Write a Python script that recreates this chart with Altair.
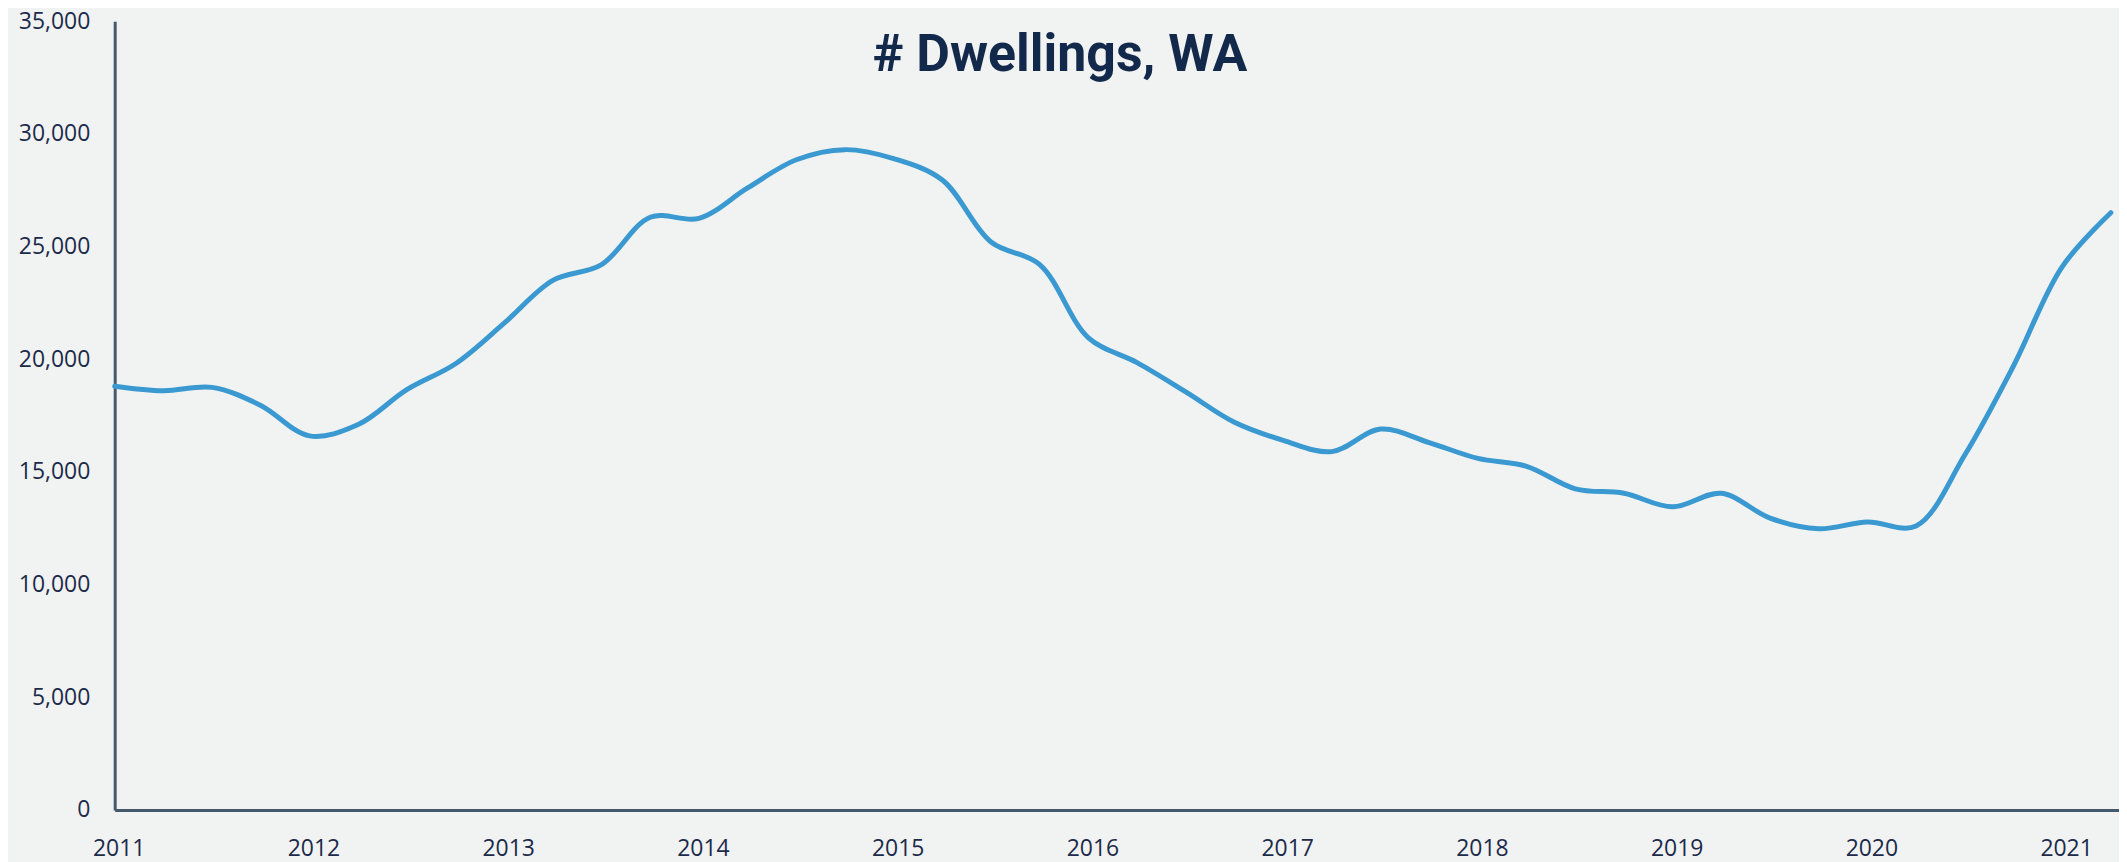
import altair as alt
import pandas as pd

# Quarterly periods (Mar-quarter 2011 ... Jun-quarter 2021)
periods = [
    "2011 Q1", "2011 Q2", "2011 Q3", "2011 Q4",
    "2012 Q1", "2012 Q2", "2012 Q3", "2012 Q4",
    "2013 Q1", "2013 Q2", "2013 Q3", "2013 Q4",
    "2014 Q1", "2014 Q2", "2014 Q3", "2014 Q4",
    "2015 Q1", "2015 Q2", "2015 Q3", "2015 Q4",
    "2016 Q1", "2016 Q2", "2016 Q3", "2016 Q4",
    "2017 Q1", "2017 Q2", "2017 Q3", "2017 Q4",
    "2018 Q1", "2018 Q2", "2018 Q3", "2018 Q4",
    "2019 Q1", "2019 Q2", "2019 Q3", "2019 Q4",
    "2020 Q1", "2020 Q2", "2020 Q3", "2020 Q4",
    "2021 Q1", "2021 Q2",
]
dwellings = [
    18800, 18600, 18750, 17950,
    16600, 17100, 18650, 19800,
    21600, 23500, 24200, 26300,
    26250, 27600, 28850, 29300,
    28900, 27950, 25200, 24200,
    20950, 19850, 18550, 17200,
    16400, 15900, 16900, 16300,
    15600, 15250, 14250, 14050,
    13450, 14050, 12950, 12480,
    12780, 12600, 15750, 19700,
    24100, 26500,
]
year_ticks = [2011, 2012, 2013, 2014, 2015, 2016, 2017, 2018, 2019, 2020, 2021]
y_ticks = [0, 5000, 10000, 15000, 20000, 25000, 30000, 35000]
title_text = "# Dwellings, WA"

df = pd.DataFrame({"period": periods, "value": dwellings})
df["t"] = df["period"].str.slice(0, 4).astype(int) + (df["period"].str.slice(6, 7).astype(int) - 1) / 4.0

W, H = 2010, 791
label_font = "Open Sans"
label_color = "#1c2b4a"
axis_color = "#44596b"

line = alt.Chart(df).mark_line(
    interpolate="catmull-rom", color="#3a99d1", strokeWidth=5, strokeCap="round"
).encode(
    x=alt.X("t:Q", scale=alt.Scale(domain=[2011, 2021.292], nice=False, zero=False),
            axis=alt.Axis(values=year_ticks, format="d", title=None, grid=False, ticks=False,
                          labelFont=label_font, labelFontSize=23, labelColor=label_color,
                          labelBaseline="middle", labelPadding=39, labelOffset=4,
                          labelFlush=False, labelOverlap=False,
                          domainColor=axis_color, domainWidth=3)),
    y=alt.Y("value:Q", scale=alt.Scale(domain=[0, 35000], nice=False),
            axis=alt.Axis(values=y_ticks, format=",.0f", title=None, grid=False, ticks=False,
                          labelFont=label_font, labelFontSize=23, labelColor=label_color,
                          labelPadding=25, labelFlush=False, labelOverlap=False,
                          domainColor=axis_color, domainWidth=3)),
)

title = alt.Chart(pd.DataFrame({"txt": [title_text]})).mark_text(
    font="Roboto", fontSize=52, fontWeight="bold", color="#13294b",
    align="center", baseline="alphabetic"
).encode(text="txt:N", x=alt.value(948), y=alt.value(50))

chart = alt.layer(line, title).properties(
    width=W, height=H,
    padding={"left": 107, "top": 12, "right": 0, "bottom": 52},
    autosize=alt.AutoSizeParams(type="none"),
    background="#f1f2f2",
).configure_view(strokeWidth=0)

chart.save("out.html", embed_options={"renderer": "svg", "actions": False})
